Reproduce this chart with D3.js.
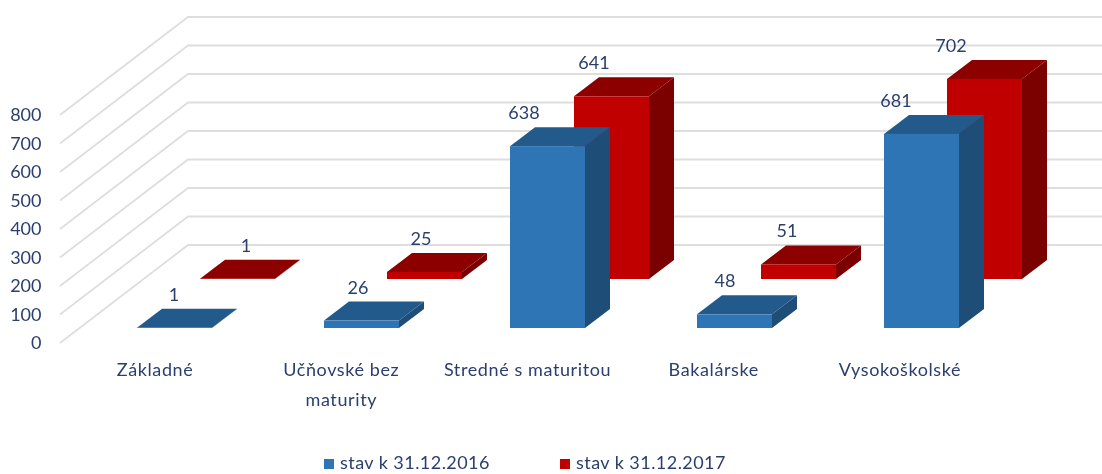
<!DOCTYPE html>
<html><head><meta charset="utf-8">
<script src="https://cdn.jsdelivr.net/npm/d3@7"></script>
<style>html,body{margin:0;padding:0;background:#fff;overflow:hidden}svg{display:block;filter:blur(0.6px)}text{font-family:Lato,"Liberation Sans",sans-serif;fill:#2a3f6e}</style>
</head><body><svg id="c" width="1102" height="474"></svg>
<script>
const categories=[["Základné"],["Učňovské bez","maturity"],["Stredné s maturitou"],["Bakalárske"],["Vysokoškolské"]];
const seriesNames=["stav k 31.12.2016","stav k 31.12.2017"];
const values2016=[1,26,638,48,681];
const values2017=[1,25,641,51,702];
const ticks=[0,100,200,300,400,500,600,700,800];

const labelShift2016=[37,34,14,28,12];
const labelShift2017=[46,34,20,26,4];
const svg=d3.select("#c");
const y=d3.scaleLinear().domain([0,800]).range([343,115]);
const names=categories.map(c=>c[0]);
const x=d3.scaleBand().domain(names).range([62,995.75]);
const xLabel=d3.scaleBand().domain(names).range([62,993]);
const barW=75, dep={x:25,y:-19}, grid={x:128,y:-98};
const series=[
 {name:seriesNames[1],vals:values2017,shift:labelShift2017,dx:63.5,dy:-64,front:"#c00000",top:"#8c0000",side:"#7b0000"},
 {name:seriesNames[0],vals:values2016,shift:labelShift2016,dx:0,dy:-15,front:"#2e75b6",top:"#235a8c",side:"#1e4d78"}];

const g=svg.append("g");
ticks.forEach(t=>{
 g.append("path").attr("fill","none").attr("stroke","#dedede").attr("stroke-width",1.8)
  .attr("d",d3.line()([[60,y(t)],[60+grid.x,y(t)+grid.y],[1102,y(t)+grid.y]]));
});
const ax=svg.append("g").attr("transform","translate(41.5,0)").call(d3.axisLeft(y).tickValues(ticks).tickSize(0).tickPadding(0));
ax.select(".domain").remove();
ax.selectAll("text").style("font-family",'Lato,"Liberation Sans",sans-serif').style("font-size","18px").attr("fill","#2a3f6e");

series.forEach(s=>{
 s.lx=[];
 s.vals.forEach((v,i)=>{
  const l=Math.round(x(names[i])+x.bandwidth()/2-18.4+s.dx), r=l+barW, b=y(0)+s.dy, t=y(v)+s.dy;
  const gb=svg.append("g");
  gb.append("path").attr("fill",s.side).attr("d",d3.line()([[r,t],[r+dep.x,t+dep.y],[r+dep.x,b+dep.y],[r,b]])+"Z");
  gb.append("path").attr("fill",s.top).attr("d",d3.line()([[l,t],[l+dep.x,t+dep.y],[r+dep.x,t+dep.y],[r,t]])+"Z");
  gb.append("rect").attr("x",l).attr("y",t).attr("width",barW).attr("height",b-t).attr("fill",s.front);
  s.lx[i]={x:l+s.shift[i],y:t-33,v};
 });
});
series.forEach(s=>s.lx.forEach(d=>{
 svg.append("text").attr("x",d.x).attr("y",d.y+6).attr("text-anchor","middle").style("font-size","18px").text(d.v);
}));
categories.forEach(c=>{
 const cx=xLabel(c[0])+xLabel.bandwidth()/2;
 c.forEach((line,k)=>svg.append("text").attr("x",cx).attr("y",376+k*30).attr("text-anchor","middle").style("font-size","18px").style("letter-spacing","0.6px").text(line));
});
const lx=[324,560];
[series[1],series[0]].forEach((s,i)=>{
 svg.append("rect").attr("x",lx[i]).attr("y",459).attr("width",10).attr("height",10).attr("fill",s.front);
 svg.append("text").attr("x",lx[i]+16).attr("y",469).style("font-size","18px").style("letter-spacing","0.45px").text(s.name);
});
</script></body></html>
